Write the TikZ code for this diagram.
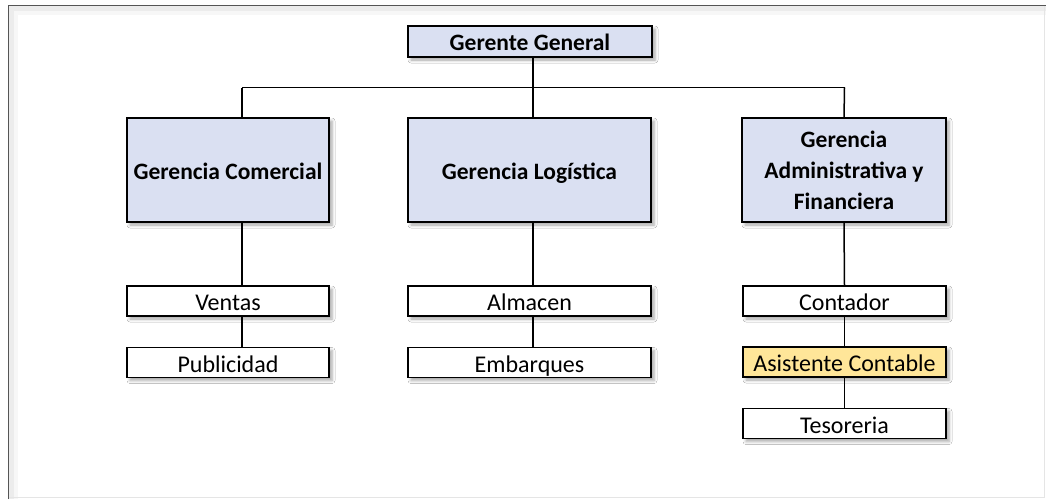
\documentclass[tikz,border=0pt]{standalone}
\usepackage{fontspec}
\setmainfont{Carlito}
\usetikzlibrary{shadows.blur}
\definecolor{boxblue}{HTML}{DAE0F2}
\definecolor{boxyellow}{HTML}{FFE699}
\definecolor{framedark}{HTML}{555555}
\tikzset{
  orgbox/.style={draw=black, line width=1.5pt, inner sep=0pt, outer sep=0pt,
    blur shadow={shadow xshift=3pt, shadow yshift=-3pt, shadow blur radius=3pt, shadow opacity=35},
    font=\fontsize{24}{31}\selectfont},
  headbox/.style={orgbox, fill=boxblue, font=\fontsize{23.5}{31}\selectfont\bfseries},
  unitbox/.style={orgbox, fill=white, minimum height=30pt, text height=21pt, text depth=2pt},
  conn/.style={draw=black, line width=1.5pt},
}
\begin{document}
\begin{tikzpicture}[x=1pt, y=-1pt]
  \useasboundingbox (0,0) rectangle (1046,499);
  % frame
  \fill[white] (0,0) rectangle (1046,499);
  \fill[gray!15] (9,6) rectangle (1046,11);
  \fill[gray!15] (9,6) rectangle (14,499);
  \fill[gray!6] (14,11) rectangle (1046,15);
  \fill[gray!6] (14,11) rectangle (18,499);
  \draw[framedark, line width=1.4pt] (8.5,499) -- (8.5,5.5) -- (1046,5.5);
  \draw[gray!20, line width=0.8pt] (1044.5,6) -- (1044.5,497.5) -- (9,497.5);

  % nodes
  \node[headbox, minimum width=244pt, minimum height=31pt, text height=19pt, text depth=2pt] (gg) at (530,41.5) {Gerente General};
  \node[headbox, minimum width=202pt, minimum height=104pt, text height=19pt, text depth=1pt] (gc) at (228,170) {Gerencia Comercial};
  \node[headbox, minimum width=243pt, minimum height=104pt, text height=19pt, text depth=1pt] (gl) at (529.5,170) {Gerencia Logística};
  \node[headbox, minimum width=204pt, minimum height=104pt, align=center] (ga) at (844,170)
    {Gerencia\\Administrativa y\\Financiera};

  \node[unitbox, minimum width=202pt] (ve) at (228,301) {Ventas};
  \node[unitbox, minimum width=202pt] (pu) at (228,362.5) {Publicidad};
  \node[unitbox, minimum width=243pt] (al) at (529.5,301) {Almacen};
  \node[unitbox, minimum width=243pt] (em) at (529.5,362.5) {Embarques};
  \node[unitbox, minimum width=203pt] (co) at (844.5,301) {Contador};
  \node[unitbox, minimum width=203pt, fill=boxyellow] (as) at (844.5,362) {Asistente Contable};
  \node[unitbox, minimum width=203pt] (te) at (844.5,423.5) {Tesoreria};

  % connectors
  \coordinate (b1) at (242,87.5);
  \coordinate (b2) at (533,87.5);
  \coordinate (b3) at (844.5,87.5);
  \draw[conn] (gg.south -| b2) -- (b2);
  \draw[conn] (b1) -- (b3);
  \draw[conn] (b1) -- (b1 |- gc.north);
  \draw[conn] (b2) -- (b2 |- gl.north);
  \draw[conn] (b3) -- (ga.north);
  \draw[conn] (b1 |- gc.south) -- (b1 |- ve.north);
  \draw[conn] (b1 |- ve.south) -- (b1 |- pu.north);
  \draw[conn] (b2 |- gl.south) -- (b2 |- al.north);
  \draw[conn] (b2 |- al.south) -- (b2 |- em.north);
  \draw[conn] (ga.south) -- (co.north);
  \draw[conn] (co.south) -- (as.north);
  \draw[conn] (as.south) -- (te.north);
\end{tikzpicture}
\end{document}
